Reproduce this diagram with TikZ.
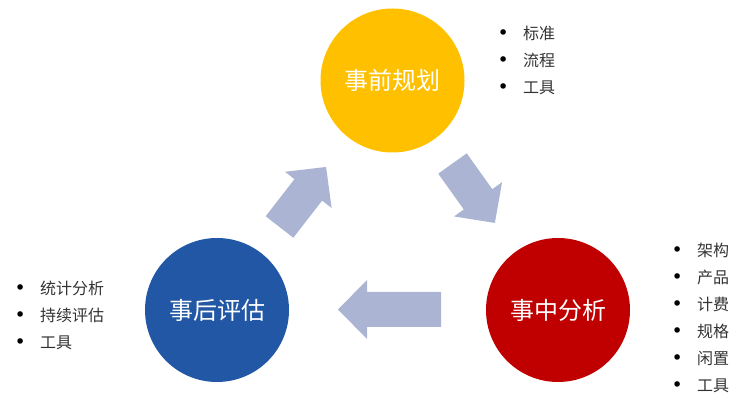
\documentclass[tikz,border=0pt]{standalone}
\usepackage{fontspec}
\newfontfamily\cjk{Noto Sans CJK SC}
\newfontfamily\symf{DejaVu Sans}
\definecolor{ycol}{HTML}{FFC000}
\definecolor{rcol}{HTML}{C00000}
\definecolor{bcol}{HTML}{2157A5}
\definecolor{acol}{HTML}{ABB5D3}
\definecolor{tcol}{HTML}{333333}
\newcommand{\li}[1]{\makebox[0pt]{\symf\fontsize{19}{27}\selectfont\color{black}•}\hspace{20pt}#1}
\tikzset{
  phase/.style={circle, minimum size=144pt, inner sep=0pt, draw=none, text=white,
    font=\cjk\fontsize{24}{28}\selectfont},
  itemlist/.style={anchor=north west, inner sep=0pt, text=tcol,
    font=\cjk\fontsize{16}{27}\selectfont},
  blockarrow/.style={fill=acol, draw=none}
}
\begin{document}
\begin{tikzpicture}[x=1pt,y=1pt]
\useasboundingbox (0,0) rectangle (753,404);
% circles
\node[phase, fill=ycol] (plan) at (392.5,323.5) {事前规划};
\node[phase, fill=rcol] (anal) at (558,94) {事中分析};
\node[phase, fill=bcol] (eval) at (217,94) {事后评估};
% lists
\node[itemlist] (planlist) at (503,384) {\begin{tabular}{@{}l@{}}\li{标准}\\\li{流程}\\\li{工具}\end{tabular}};
\node[itemlist] (anallist) at (677,167) {\begin{tabular}{@{}l@{}}\li{架构}\\\li{产品}\\\li{计费}\\\li{规格}\\\li{闲置}\\\li{工具}\end{tabular}};
\node[itemlist] (evallist) at (20,129) {\begin{tabular}{@{}l@{}}\li{统计分析}\\\li{持续评估}\\\li{工具}\end{tabular}};
% block arrows
\fill[blockarrow, shift={(279.5,177)}, rotate=52.2]
  (0,-17.5) -- (47,-17.5) -- (47,-29.5) -- (76,0) -- (47,29.5) -- (47,17.5) -- (0,17.5) -- cycle;
\fill[blockarrow, shift={(452.5,240.5)}, rotate=-54.5]
  (0,-17.5) -- (44,-17.5) -- (44,-29.5) -- (73,0) -- (44,29.5) -- (44,17.5) -- (0,17.5) -- cycle;
\fill[blockarrow, shift={(441,94.5)}, rotate=180]
  (0,-17.5) -- (74,-17.5) -- (74,-29.5) -- (103,0) -- (74,29.5) -- (74,17.5) -- (0,17.5) -- cycle;
\end{tikzpicture}
\end{document}
